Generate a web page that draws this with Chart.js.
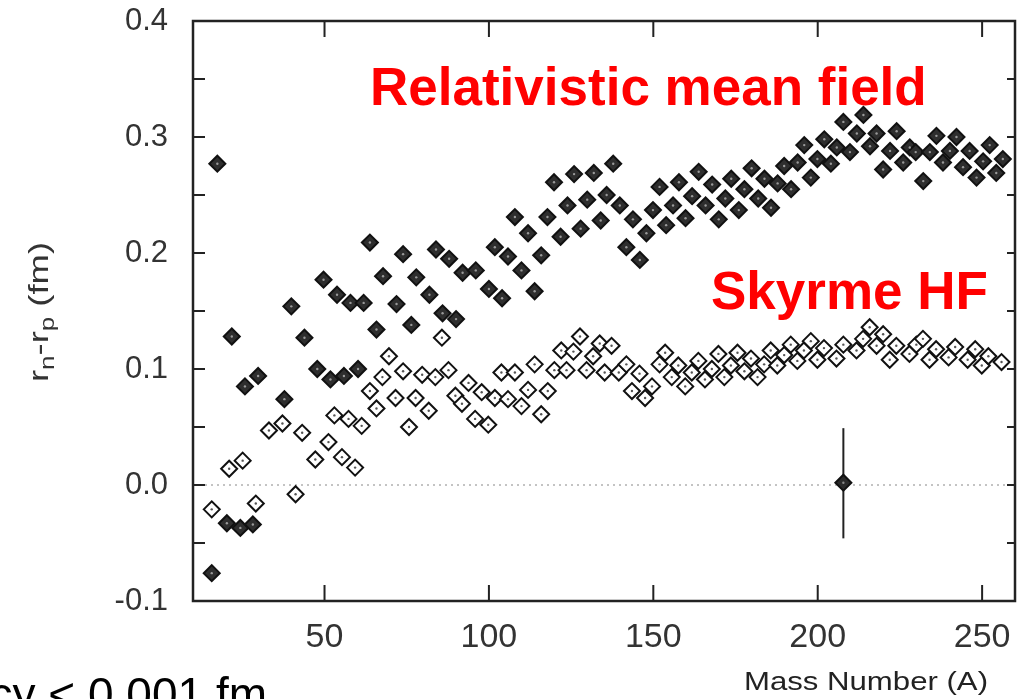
<!DOCTYPE html>
<html>
<head>
<meta charset="utf-8">
<script src="https://cdn.jsdelivr.net/npm/chart.js@4.4.1/dist/chart.umd.min.js"></script>
<style>
  html, body { margin: 0; padding: 0; background: #fff; }
  #wrap { position: relative; width: 1025px; height: 699px; }
</style>
</head>
<body>
<div id="wrap"><canvas id="chart"></canvas></div>
<script>
// Relativistic mean field (filled diamonds)
const rmfMass = [15.7, 17.4, 20.3, 21.8, 24.4, 25.8, 28.2, 29.8, 37.8, 39.9, 43.9, 47.8, 49.7, 51.8, 53.8, 55.9,
  57.9, 60.2, 61.9, 63.8, 65.8, 67.8, 71.9, 73.9, 76.4, 77.9, 81.9, 83.9, 85.9, 87.9, 90.0, 92.0, 96.0,
  100.0, 101.8, 104.0, 105.8, 107.9, 109.9, 111.9, 113.9, 115.9, 117.8, 119.8, 121.8, 123.9, 125.9, 127.9,
  129.9, 131.9, 134.0, 135.8, 137.8, 139.8, 141.8, 143.8, 145.9, 147.9, 149.9, 151.9, 153.9, 156.0, 157.8,
  159.8, 161.8, 163.8, 165.9, 167.9, 169.9, 171.9, 173.7, 176.0, 177.7, 179.9, 181.9, 183.8, 185.8, 187.8,
  189.8, 191.9, 193.9, 195.9, 197.9, 199.9, 202.0, 204.0, 205.8, 207.8, 209.8, 211.9, 213.9, 215.9, 217.9,
  219.9, 222.0, 224.0, 226.0, 228.0, 229.8, 232.1, 234.1, 236.1, 238.1, 240.2, 242.2, 244.2, 246.2, 248.3,
  250.3, 252.3, 254.3, 256.3];
const rmfSkin = [-0.076, 0.277, -0.033, 0.128, -0.037, 0.085, -0.034, 0.094, 0.074, 0.154, 0.127, 0.100, 0.177, 0.091, 0.164, 0.094,
  0.157, 0.100, 0.157, 0.209, 0.134, 0.180, 0.156, 0.199, 0.138, 0.179, 0.164, 0.203, 0.148, 0.195, 0.143, 0.183, 0.185,
  0.169, 0.205, 0.161, 0.197, 0.231, 0.185, 0.217, 0.167, 0.198, 0.231, 0.261, 0.214, 0.241, 0.268, 0.221,
  0.246, 0.269, 0.228, 0.250, 0.277, 0.241, 0.205, 0.229, 0.194, 0.217, 0.237, 0.257, 0.224, 0.241, 0.261,
  0.230, 0.249, 0.270, 0.241, 0.259, 0.229, 0.247, 0.264, 0.237, 0.255, 0.273, 0.247, 0.264, 0.239, 0.260,
  0.275, 0.255, 0.278, 0.293, 0.265, 0.281, 0.298, 0.277, 0.291, 0.313, 0.287, 0.303, 0.319, 0.292, 0.303,
  0.272, 0.288, 0.305, 0.278, 0.291, 0.287, 0.262, 0.287, 0.301, 0.278, 0.288, 0.300, 0.274, 0.288, 0.265,
  0.279, 0.293, 0.269, 0.281];

// Skyrme HF (open diamonds)
const shfMass = [15.7, 21.0, 25.1, 29.1, 33.1, 37.2, 41.2, 43.2, 47.2, 51.2, 53.0, 55.3, 57.3, 59.3, 61.3, 63.8,
  65.8, 67.6, 69.6, 71.6, 73.9, 75.7, 77.7, 79.7, 81.7, 83.7, 85.7, 87.7, 89.8, 91.8, 93.8, 95.8, 97.8,
  99.8, 101.8, 103.8, 105.8, 107.9, 109.9, 111.9, 113.9, 115.9, 117.9, 119.9, 122.0, 123.6, 125.7, 127.7,
  129.7, 131.7, 133.7, 135.2, 137.3, 139.5, 141.8, 143.5, 145.8, 147.5, 149.6, 151.9, 153.6, 155.6, 157.6,
  159.7, 161.7, 163.7, 165.7, 167.8, 169.8, 171.6, 173.6, 175.6, 177.7, 179.7, 181.7, 183.7, 185.7, 187.7,
  189.8, 191.8, 193.8, 195.8, 197.9, 199.9, 201.9, 205.7, 207.8, 211.8, 213.8, 215.8, 217.9, 219.9, 221.9,
  223.9, 227.9, 230.0, 232.0, 234.0, 236.0, 239.8, 241.8, 245.6, 247.9, 249.9, 251.9, 255.9];
const shfSkin = [-0.021, 0.014, 0.021, -0.016, 0.047, 0.053, -0.008, 0.045, 0.022, 0.037, 0.060, 0.024, 0.057, 0.015, 0.051, 0.081,
  0.066, 0.093, 0.111, 0.075, 0.098, 0.050, 0.075, 0.095, 0.064, 0.093, 0.127, 0.099, 0.077, 0.070, 0.088, 0.057, 0.080,
  0.052, 0.075, 0.097, 0.074, 0.097, 0.068, 0.082, 0.104, 0.061, 0.081, 0.099, 0.116, 0.099, 0.115, 0.128,
  0.099, 0.111, 0.122, 0.097, 0.120, 0.097, 0.104, 0.081, 0.096, 0.075, 0.085, 0.104, 0.114, 0.093, 0.103,
  0.085, 0.097, 0.107, 0.091, 0.100, 0.113, 0.093, 0.103, 0.114, 0.098, 0.109, 0.093, 0.104, 0.116, 0.103,
  0.112, 0.121, 0.107, 0.116, 0.124, 0.108, 0.118, 0.109, 0.121, 0.116, 0.126, 0.136, 0.120, 0.130, 0.108,
  0.120, 0.113, 0.121, 0.126, 0.108, 0.117, 0.110, 0.119, 0.108, 0.117, 0.103, 0.111, 0.106];

// measured point (208Pb) with its error bar
const expMass = [207.8];
const expSkin = [0.002];
const expErrHigh = [0.049];
const expErrLow = [-0.046];

// dotted zero reference line
const zeroLineMass = [10, 260];
const zeroLineSkin = [0, 0];

const xTickValues = [50, 100, 150, 200, 250];
const yTickValues = [-0.1, -0.05, 0, 0.05, 0.1, 0.15, 0.2, 0.25, 0.3, 0.35, 0.4];

const toPoints = (xs, ys) => xs.map((x, i) => ({ x: x, y: ys[i] }));

// draw text squeezed/stretched along its baseline
function stretchedText(ctx, text, x, y, sx, align) {
    ctx.save();
    ctx.translate(x, y);
    ctx.scale(sx, 1);
    ctx.textAlign = align;
    ctx.fillText(text, 0, 0);
    ctx.restore();
}

// error bar under the measured point
const errorBarPlugin = {
    id: 'errorBar',
    beforeDatasetsDraw(chart) {
        const { ctx, scales: { x, y } } = chart;
        ctx.save();
        ctx.strokeStyle = '#222';
        ctx.lineWidth = 2;
        expMass.forEach((m, i) => {
            const px = x.getPixelForValue(m);
            ctx.beginPath();
            ctx.moveTo(px, y.getPixelForValue(expErrLow[i]));
            ctx.lineTo(px, y.getPixelForValue(expErrHigh[i]));
            ctx.stroke();
        });
        ctx.restore();
    }
};

// small dot in the middle of each diamond, like the scanned figure
const centerDotPlugin = {
    id: 'centerDot',
    afterDatasetsDraw(chart) {
        const ctx = chart.ctx;
        ctx.save();
        chart.data.datasets.forEach((ds, i) => {
            if (!ds.centerDot) return;
            ctx.fillStyle = ds.centerDot;
            chart.getDatasetMeta(i).data.forEach(pt => {
                ctx.beginPath();
                ctx.arc(pt.x, pt.y, 1.2, 0, Math.PI * 2);
                ctx.fill();
            });
        });
        ctx.restore();
    }
};

// box frame with inward ticks, plus all the free text
const framePlugin = {
    id: 'frame',
    afterDraw(chart) {
        const { ctx, chartArea: a, scales: { x, y } } = chart;
        ctx.save();
        ctx.strokeStyle = '#222';
        ctx.lineWidth = 2.5;
        ctx.strokeRect(a.left, a.top, a.right - a.left, a.bottom - a.top);

        ctx.lineWidth = 2;
        ctx.beginPath();
        y.ticks.forEach(t => {
            const py = y.getPixelForValue(t.value);
            ctx.moveTo(a.left, py); ctx.lineTo(a.left + 12, py);
            ctx.moveTo(a.right, py); ctx.lineTo(a.right - 8, py);
        });
        x.ticks.forEach(t => {
            const px = x.getPixelForValue(t.value);
            ctx.moveTo(px, a.bottom); ctx.lineTo(px, a.bottom - 16);
            ctx.moveTo(px, a.top); ctx.lineTo(px, a.top + 16);
        });
        ctx.stroke();

        // y axis title: r_n - r_p (fm)
        ctx.save();
        ctx.translate(48, 312);
        ctx.rotate(-Math.PI / 2);
        ctx.scale(1.3, 1);
        ctx.fillStyle = '#333';
        ctx.textBaseline = 'alphabetic';
        const parts = [['r', 28, 0], ['n', 20, 6], ['-r', 28, 0], ['p', 20, 6], [' (fm)', 28, 0]];
        let total = 0;
        parts.forEach(p => { ctx.font = p[1] + 'px Arial'; total += ctx.measureText(p[0]).width; });
        let cx = -total / 2;
        parts.forEach(p => {
            ctx.font = p[1] + 'px Arial';
            ctx.fillText(p[0], cx, p[2]);
            cx += ctx.measureText(p[0]).width;
        });
        ctx.restore();

        // x axis title
        ctx.fillStyle = '#222';
        ctx.font = '25px Arial';
        ctx.textBaseline = 'alphabetic';
        stretchedText(ctx, 'Mass Number (A)', 866, 690, 1.246, 'center');

        // clipped caption at the bottom left
        ctx.fillStyle = '#000';
        ctx.font = '46px Arial';
        stretchedText(ctx, 'cy < 0.001 fm', 267, 710, 1, 'right');

        // red model labels
        ctx.fillStyle = '#ff0000';
        ctx.font = 'bold 53px Arial';
        stretchedText(ctx, 'Relativistic mean field', 370, 105, 1, 'left');
        stretchedText(ctx, 'Skyrme HF', 711, 309, 1, 'left');
        ctx.restore();
    }
};

const ctx = document.getElementById('chart').getContext('2d');
new Chart(ctx, {
    type: 'scatter',
    data: {
        datasets: [
            {
                label: 'Measured',
                data: toPoints(expMass, expSkin),
                pointStyle: 'rectRot',
                pointRadius: 8,
                backgroundColor: '#2a2a2a',
                borderColor: '#111',
                borderWidth: 2,
                centerDot: '#888'
            },
            {
                label: 'Relativistic mean field',
                data: toPoints(rmfMass, rmfSkin),
                pointStyle: 'rectRot',
                pointRadius: 8,
                backgroundColor: '#2e2e2e',
                borderColor: '#111',
                borderWidth: 2,
                centerDot: '#999'
            },
            {
                label: 'Skyrme HF',
                data: toPoints(shfMass, shfSkin),
                pointStyle: 'rectRot',
                pointRadius: 8,
                backgroundColor: '#fff',
                borderColor: '#111',
                borderWidth: 2,
                centerDot: '#555'
            },
            {
                type: 'line',
                label: 'zero',
                data: toPoints(zeroLineMass, zeroLineSkin),
                borderColor: '#888',
                borderWidth: 1,
                borderDash: [2, 4],
                pointRadius: 0,
                showLine: true
            }
        ]
    },
    options: {
        responsive: true,
        maintainAspectRatio: false,
        animation: false,
        layout: { padding: { top: 21, right: 0, left: 0, bottom: 0 } },
        plugins: {
            legend: { display: false },
            tooltip: { enabled: false }
        },
        scales: {
            x: {
                type: 'linear',
                min: 10,
                max: 260,
                afterBuildTicks: s => { s.ticks = xTickValues.map(v => ({ value: v })); },
                afterFit: s => { s.height = 98; s.paddingLeft = 0; s.paddingRight = 0; },
                grid: { display: false, drawTicks: false },
                border: { display: false },
                ticks: {
                    padding: 16,
                    color: '#333',
                    font: { family: 'Arial', size: 34 },
                    maxRotation: 0,
                    callback: v => String(v)
                }
            },
            y: {
                type: 'linear',
                min: -0.1,
                max: 0.4,
                afterBuildTicks: s => { s.ticks = yTickValues.map(v => ({ value: v })); },
                afterFit: s => { s.width = 193; s.paddingTop = 0; s.paddingBottom = 0; },
                grid: { display: false, drawTicks: false },
                border: { display: false },
                ticks: {
                    padding: 25,
                    color: '#333',
                    font: { family: 'Arial', size: 31 },
                    callback: v => {
                        const k = Math.round(v * 100);
                        return k % 10 === 0 ? (k / 100).toFixed(1) : '';
                    }
                }
            }
        }
    },
    plugins: [errorBarPlugin, centerDotPlugin, framePlugin]
});
</script>
</body>
</html>
